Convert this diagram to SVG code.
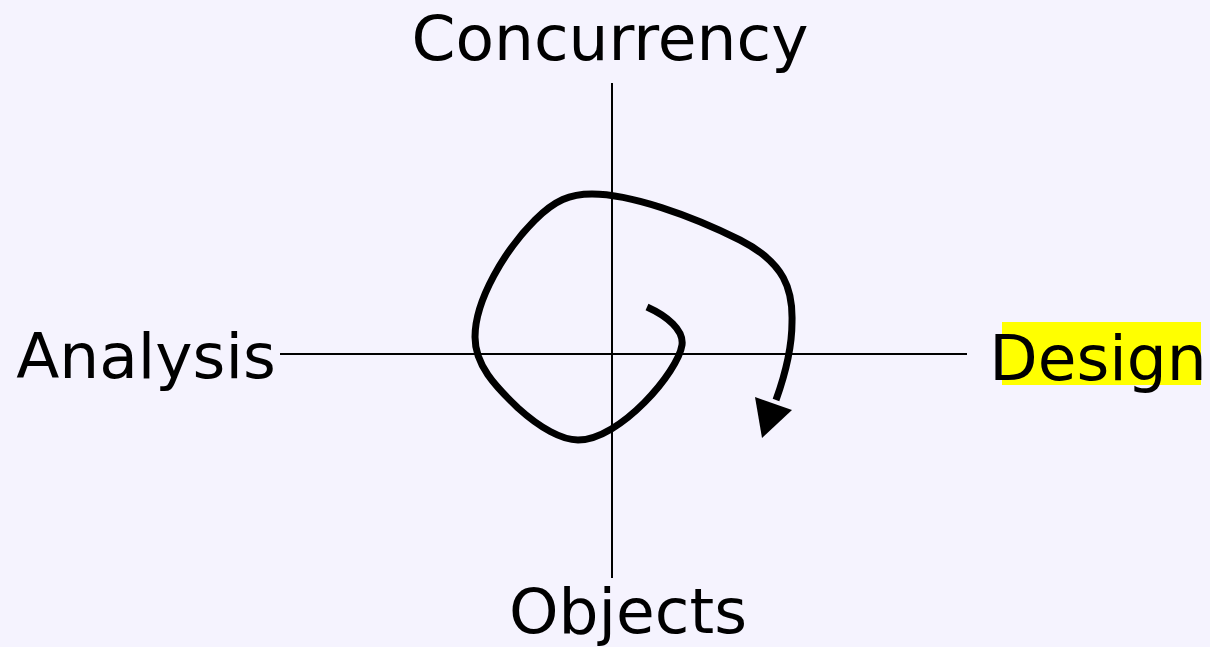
<svg xmlns="http://www.w3.org/2000/svg" width="1210" height="647" viewBox="0 0 1210 647">
<style>
.lbl{font-family:"DejaVu Sans",Verdana,sans-serif;font-size:63px;fill:#000}
.axis{stroke:#000;stroke-width:2;fill:none}
</style>
<rect width="1210" height="647" fill="#f5f3fe"/>
<g id="connectors">
<line class="axis" x1="612" y1="83" x2="612" y2="578"/>
<line class="axis" x1="280" y1="354" x2="967" y2="354"/>
<path d="M647,307 C667,316 684,330 682,345 C678,372 620,440 578,440 C562,440 540,428 518,408 C495,386 475,365 475,337 C475,300 505,250 535,220 C555,200 570,194 592,194 C630,194 690,215 740,240 C785,263 793,290 792,322 C792,350 785,375 776,400" fill="none" stroke="#000" stroke-width="7" stroke-linejoin="round"/>
<polygon points="755,397 792,410 762,438" fill="#000"/>
</g>
<g id="concurrency"><text class="lbl" x="610" y="60" text-anchor="middle">Concurrency</text></g>
<g id="analysis"><text class="lbl" x="146" y="378" text-anchor="middle">Analysis</text></g>
<g id="design"><rect x="1002" y="322" width="199" height="63" fill="#ffff00"/><text class="lbl" x="1098" y="380" text-anchor="middle">Design</text></g>
<g id="objects"><text class="lbl" x="628" y="633" text-anchor="middle">Objects</text></g>
</svg>
